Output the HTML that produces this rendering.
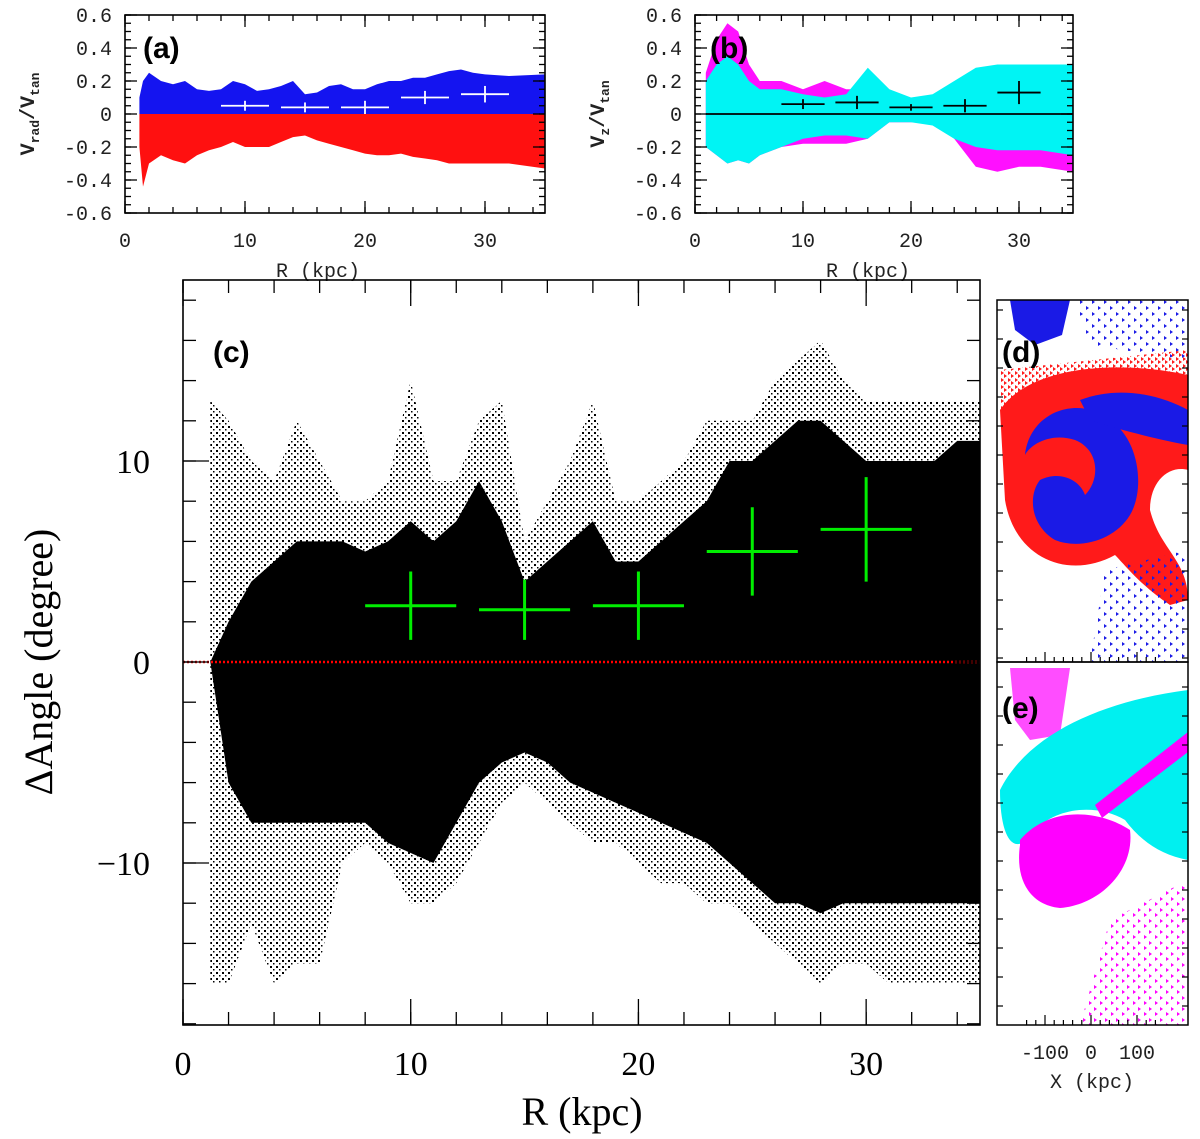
<!DOCTYPE html>
<html><head><meta charset="utf-8"><style>
html,body{margin:0;padding:0;background:#fff;}
svg{display:block;}
.pg{font-family:"Liberation Mono","DejaVu Sans Mono",monospace;font-size:20px;fill:#222;}
.sr{font-family:"Liberation Serif",serif;fill:#000;}
.lb{font-family:"Liberation Sans",sans-serif;font-weight:bold;font-size:30px;fill:#000;}
</style></head><body>
<svg id="fig" width="1200" height="1139" viewBox="0 0 1200 1139" xmlns="http://www.w3.org/2000/svg">
<defs>
<pattern id="dots" width="6" height="6" patternUnits="userSpaceOnUse"><rect x="0" y="0" width="2" height="2" fill="#000"/><rect x="3" y="3" width="1.5" height="1.5" fill="#000"/></pattern>
<pattern id="dotsb" width="12" height="12" patternUnits="userSpaceOnUse"><path d="M0,0 l3,2 l-3,2 z" fill="#1a1ae6"/><path d="M6,6 l3,2 l-3,2 z" fill="#1a1ae6"/></pattern>
<pattern id="dotsm" width="11" height="11" patternUnits="userSpaceOnUse"><path d="M0,0 l3,2 l-3,2 z" fill="#ff00ff"/><path d="M5,6 l3,2 l-3,2 z" fill="#ff00ff"/></pattern>
<pattern id="dotsr" width="7" height="7" patternUnits="userSpaceOnUse"><path d="M0,0 l3,2 l-3,2 z" fill="#ff1a1a"/><path d="M3,3 l3,2 l-3,2 z" fill="#ff1a1a"/></pattern>
</defs>
<g id="pa"></g>
<g id="pb"></g>
<g id="pc"></g>
<g id="pd">
 <rect x="997" y="300" width="191" height="362" fill="#fff"/>
 <path d="M1010,300 L1070,300 L1062,335 L1035,345 L1015,330 Z" fill="#1a1ae6"/>
 <path d="M1075,300 L1188,300 L1188,360 L1090,345 Z" fill="url(#dotsb)"/>
 <path d="M1000,410 C1030,365 1120,360 1188,375 L1188,470 C1170,465 1150,480 1150,510 C1160,550 1188,560 1188,600 L1170,605 C1140,585 1125,565 1115,555 C1070,580 1015,560 1005,500 Z" fill="#ff1a1a"/>
 <path d="M1000,370 L1188,350 L1188,380 L1000,410 Z" fill="url(#dotsr)"/>
 <path d="M1025,455 C1030,410 1080,395 1110,420 C1140,440 1145,490 1130,515 C1115,540 1080,550 1055,540 C1030,525 1028,495 1040,480 C1060,470 1080,480 1085,495 C1100,480 1100,450 1075,440 C1050,432 1030,445 1025,455 Z" fill="#1a1ae6"/>
 <path d="M1080,400 C1120,385 1160,395 1188,410 L1188,445 C1160,440 1120,430 1090,420 Z" fill="#1a1ae6"/>
 <path d="M1105,570 L1188,550 L1188,662 L1090,662 Z" fill="url(#dotsb)"/>
 <rect x="997" y="300" width="191" height="362" fill="none" stroke="#000" stroke-width="1.5"/>
 <text x="1002" y="362" class="lb">(d)</text>
</g>
<g id="pe">
 <path d="M1010,668 L1070,668 L1060,735 L1030,740 L1015,720 Z" fill="#ff20ff" opacity="0.8"/>
 <path d="M1000,790 C1030,730 1110,700 1188,690 L1188,860 C1160,855 1140,840 1125,820 C1100,805 1060,805 1035,830 C1015,860 1000,840 1000,790 Z" fill="#00f0f0"/>
 <path d="M1020,840 C1050,805 1100,810 1130,830 C1135,870 1100,905 1060,908 C1030,905 1015,880 1020,845 Z" fill="#ff00ff"/>
 <path d="M1095,805 L1188,732 L1188,752 L1102,818 Z" fill="#ff00ff"/>
 <path d="M1110,920 L1188,880 L1188,1025 L1080,1025 Z" fill="url(#dotsm)"/>
 <rect x="997" y="662" width="191" height="363" fill="none" stroke="#000" stroke-width="1.5"/>
 <text x="1002" y="718" class="lb">(e)</text>
 <text x="1045" y="1059" class="pg" text-anchor="middle">-100</text>
 <text x="1091" y="1059" class="pg" text-anchor="middle">0</text>
 <text x="1137" y="1059" class="pg" text-anchor="middle">100</text>
 <text x="1092" y="1088" class="pg" text-anchor="middle">X (kpc)</text>
</g>
</svg>
<script>
// ---- Panel (a) data ----
const aR = [1.2,1.5,2,3,4,5,6,7,8,9,10,11,12,13,14,15,16,17,18,19,20,21,22,23,24,25,26,27,28,29,30,32,35];
const aUpper = [0.1,0.2,0.25,0.2,0.18,0.2,0.15,0.14,0.15,0.2,0.18,0.14,0.15,0.17,0.2,0.12,0.13,0.17,0.18,0.15,0.15,0.18,0.2,0.2,0.22,0.22,0.24,0.26,0.27,0.25,0.24,0.23,0.24];
const aLower = [-0.2,-0.44,-0.3,-0.25,-0.28,-0.3,-0.25,-0.22,-0.2,-0.17,-0.2,-0.2,-0.2,-0.17,-0.14,-0.13,-0.16,-0.18,-0.2,-0.22,-0.24,-0.25,-0.25,-0.24,-0.26,-0.27,-0.28,-0.3,-0.3,-0.3,-0.3,-0.3,-0.33];
const aBinR = [10,15,20,25,30];
const aBinV = [0.05,0.04,0.04,0.1,0.12];
const aBinErr = [0.03,0.03,0.04,0.04,0.05];
// ---- Panel (b) data ----
const bR = [1,2,3,4,5,6,8,10,12,14,16,18,20,22,24,26,28,30,32,35];
const bCyanUp = [0.2,0.3,0.35,0.3,0.2,0.15,0.15,0.12,0.1,0.12,0.28,0.15,0.1,0.12,0.2,0.28,0.3,0.3,0.3,0.3];
const bCyanLo = [-0.2,-0.25,-0.3,-0.28,-0.3,-0.25,-0.2,-0.15,-0.13,-0.13,-0.15,-0.05,-0.05,-0.07,-0.15,-0.2,-0.22,-0.22,-0.22,-0.25];
const bMagUp = [0.25,0.45,0.55,0.5,0.3,0.2,0.2,0.15,0.2,0.15,0.15,0.1,0.1,0.1,0.15,0.2,0.25,0.25,0.25,0.25];
const bMagLo = [-0.2,-0.25,-0.3,-0.28,-0.3,-0.25,-0.2,-0.18,-0.18,-0.18,-0.15,-0.05,-0.05,-0.05,-0.15,-0.32,-0.35,-0.32,-0.32,-0.35];
const bBinR = [10,15,20,25,30];
const bBinV = [0.06,0.07,0.04,0.05,0.13];
const bBinErr = [0.03,0.04,0.02,0.04,0.07];
// ---- Panel (c) data ----
const cR = [1.2,2,3,4,5,6,7,8,9,10,11,12,13,14,15,16,17,18,19,20,21,22,23,24,25,26,27,28,29,30,31,32,33,34,35];
const cOuterUp = [13,12,10,9,12,10,8,8,9,14,9,9,12,13,6,8,10,13,8,8,9,10,12,12,12,14,15,16,14,13,13,13,13,13,13];
const cOuterLo = [-16,-16,-13,-16,-15,-15,-10,-9,-10,-12,-12,-11,-9,-7,-6,-7,-8,-9,-9,-10,-11,-11,-12,-12,-13,-14,-15,-16,-15,-15,-16,-16,-16,-16,-16];
const cCoreUp = [0,2,4,5,6,6,6,5.5,6,7,6,7,9,7,4,5,6,7,5,5,6,7,8,10,10,11,12,12,11,10,10,10,10,11,11];
const cCoreLo = [0,-6,-8,-8,-8,-8,-8,-8,-9,-9.5,-10,-8,-6,-5,-4.5,-5,-6,-6.5,-7,-7.5,-8,-8.5,-9,-10,-11,-12,-12,-12.5,-12,-12,-12,-12,-12,-12,-12];
const cBinR = [10,15,20,25,30];
const cBinV = [2.8,2.6,2.8,5.5,6.6];
const cBinErr = [1.7,1.5,1.7,2.2,2.6];
const binHalfWidth = [2,2,2,2,2];

const NS="http://www.w3.org/2000/svg";
function mk(parent, tag, attrs){const e=document.createElementNS(NS,tag);for(const k in attrs)e.setAttribute(k,attrs[k]);parent.appendChild(e);return e;}
function lin(d0,d1,p0,p1){return v=>p0+(v-d0)*(p1-p0)/(d1-d0);}
function bandPath(xs,up,lo,X,Y){let d="M"+X(xs[0])+","+Y(up[0]);for(let i=1;i<xs.length;i++)d+=" L"+X(xs[i])+","+Y(up[i]);for(let i=xs.length-1;i>=0;i--)d+=" L"+X(xs[i])+","+Y(lo[i]);return d+" Z";}

function axes(g,box,X,Y,xMaj,xMin,yMaj,yMin,fmtY,cls,tl,ts,yLabX,xLabY){
  const [l,t,r,b]=box;
  for(const v of xMin){const x=X(v);mk(g,'line',{x1:x,y1:b,x2:x,y2:b-ts/2,stroke:'#000','stroke-width':1.3});mk(g,'line',{x1:x,y1:t,x2:x,y2:t+ts/2,stroke:'#000','stroke-width':1.3});}
  for(const v of xMaj){const x=X(v);mk(g,'line',{x1:x,y1:b,x2:x,y2:b-ts,stroke:'#000','stroke-width':1.3});mk(g,'line',{x1:x,y1:t,x2:x,y2:t+ts,stroke:'#000','stroke-width':1.3});
    const tx=mk(g,'text',{x:x,y:xLabY,'text-anchor':'middle',class:cls});tx.textContent=v;
    
    }
  for(const v of yMin){const y=Y(v);mk(g,'line',{x1:l,y1:y,x2:l+ts/2,y2:y,stroke:'#000','stroke-width':1.3});mk(g,'line',{x1:r,y1:y,x2:r-ts/2,y2:y,stroke:'#000','stroke-width':1.3});}
  for(const v of yMaj){const y=Y(v);mk(g,'line',{x1:l,y1:y,x2:l+ts,y2:y,stroke:'#000','stroke-width':1.3});mk(g,'line',{x1:r,y1:y,x2:r-ts,y2:y,stroke:'#000','stroke-width':1.3});
    const tx=mk(g,'text',{x:yLabX,y:y+tl,'text-anchor':'end',class:cls});tx.textContent=fmtY(v);
    
    }
  mk(g,'rect',{x:l,y:t,width:r-l,height:b-t,fill:'none',stroke:'#000','stroke-width':1.6});
}
function errbars(g,xs,vs,es,hw,X,Y,col,w){
  for(let i=0;i<xs.length;i++){
    const e1=mk(g,'line',{x1:X(xs[i]-hw[i]),y1:Y(vs[i]),x2:X(xs[i]+hw[i]),y2:Y(vs[i]),stroke:col,'stroke-width':w});
    
    
    const e2=mk(g,'line',{x1:X(xs[i]),y1:Y(vs[i]-es[i]),x2:X(xs[i]),y2:Y(vs[i]+es[i]),stroke:col,'stroke-width':w});
    
    
  }
}
const fy=v=>(v===0?'0':v.toFixed(1));
const maj6=[-0.6,-0.4,-0.2,0,0.2,0.4,0.6];
const min6=[];for(let v=-0.6;v<=0.61;v+=0.05)min6.push(+v.toFixed(2));
const xmj=[0,10,20,30];const xmn=[];for(let v=0;v<=35;v+=2)xmn.push(v);

// Panel a
(function(){
  const g=document.getElementById('pa');
  const X=lin(0,35,125,545),Y=lin(-0.6,0.6,213,15);
  const up=mk(g,'path',{d:bandPath(aR,aUpper,aUpper.map(()=>0),X,Y),fill:'#1414f0'});
  
  
  const lo=mk(g,'path',{d:bandPath(aR,aLower.map(()=>0),aLower,X,Y),fill:'#ff1010'});
  
  
  errbars(g,aBinR,aBinV,aBinErr,binHalfWidth,X,Y,'#fff',1.8);
  axes(g,[125,15,545,213],X,Y,xmj,xmn,maj6,min6,fy,'pg',7,12,112,247);
  const t=mk(g,'text',{x:318,y:277,'text-anchor':'middle',class:'pg'});t.textContent='R (kpc)';
  
  
  const yt=mk(g,'text',{x:0,y:0,class:'pg',transform:'translate(34,114) rotate(-90)','text-anchor':'middle','font-weight':'bold'});
  yt.innerHTML='V<tspan font-size="13" dy="5">rad</tspan><tspan dy="-5">/V</tspan><tspan font-size="13" dy="5">tan</tspan>';
  
  
  const lb=mk(g,'text',{x:143,y:58,class:'lb'});lb.textContent='(a)';
  
  
})();
// Panel b
(function(){
  const g=document.getElementById('pb');
  const X=lin(0,35,695,1073),Y=lin(-0.6,0.6,213,15);
  const m=mk(g,'path',{d:bandPath(bR,bMagUp,bMagLo,X,Y),fill:'#ff10ff'});
  
  
  const c=mk(g,'path',{d:bandPath(bR,bCyanUp,bCyanLo,X,Y),fill:'#00f4f4'});
  
  
  const z=mk(g,'line',{x1:X(1),y1:Y(0),x2:X(35),y2:Y(0),stroke:'#000','stroke-width':1.8});
  
  
  errbars(g,bBinR,bBinV,bBinErr,binHalfWidth,X,Y,'#000',1.8);
  axes(g,[695,15,1073,213],X,Y,xmj,xmn,maj6,min6,fy,'pg',7,12,682,247);
  const t=mk(g,'text',{x:868,y:277,'text-anchor':'middle',class:'pg'});t.textContent='R (kpc)';
  
  
  const yt=mk(g,'text',{x:0,y:0,class:'pg',transform:'translate(604,114) rotate(-90)','text-anchor':'middle','font-weight':'bold'});
  yt.innerHTML='V<tspan font-size="13" dy="5">z</tspan><tspan dy="-5">/V</tspan><tspan font-size="13" dy="5">tan</tspan>';
  
  
  const lb=mk(g,'text',{x:710,y:58,class:'lb'});lb.textContent='(b)';
  
  
})();
// Panel c
(function(){
  const g=document.getElementById('pc');
  const X=lin(0,35,183,980),Y=lin(0,10,662,461);
  const o=mk(g,'path',{d:bandPath(cR,cOuterUp,cOuterLo,X,Y),fill:'url(#dots)'});
  
  
  const c=mk(g,'path',{d:bandPath(cR,cCoreUp,cCoreLo,X,Y),fill:'#000'});
  
  
  const z=mk(g,'line',{x1:183,y1:Y(0),x2:980,y2:Y(0),stroke:'#ff0000','stroke-width':2.5,'stroke-dasharray':'2,2'});
  
  
  errbars(g,cBinR,cBinV,cBinErr,binHalfWidth,X,Y,'#00ee00',3);
  const ym=[-10,0,10],yn=[];for(let v=-18;v<=18;v+=2)yn.push(v);
  axes(g,[183,280,980,1025],X,Y,xmj,xmn,ym,yn,v=>v<0?'\u2212'+(-v):''+v,'sr',12,26,150,1075);
  g.querySelectorAll('text').forEach(t=>t.setAttribute('font-size','34'));
  const t=mk(g,'text',{x:582,y:1125,'text-anchor':'middle',class:'sr','font-size':'40'});t.textContent='R (kpc)';
  
  
  const yt=mk(g,'text',{x:0,y:0,class:'sr','font-size':'40',transform:'translate(52,662) rotate(-90)','text-anchor':'middle'});yt.textContent='\u0394Angle (degree)';
  
  
  const lb=mk(g,'text',{x:213,y:362,class:'lb'});lb.textContent='(c)';
  
  
})();
// ticks for d/e
(function(){
  const g=document.getElementById('pe');
  const X=lin(-100,100,1045,1137);
  for(let v=-140;v<=140;v+=20){const x=X(v);if(x<998||x>1187)continue;const L=(v%100===0)?10:5;
    mk(g,'line',{x1:x,y1:1025,x2:x,y2:1025-L,stroke:'#000','stroke-width':1.2});
    mk(g,'line',{x1:x,y1:662,x2:x,y2:662-L,stroke:'#000','stroke-width':1.2});}
  for(let y=310;y<1025;y+=29){mk(g,'line',{x1:997,y1:y,x2:1003,y2:y,stroke:'#000','stroke-width':1.2});mk(g,'line',{x1:1188,y1:y,x2:1182,y2:y,stroke:'#000','stroke-width':1.2});}
})();
</script>
</body></html>
